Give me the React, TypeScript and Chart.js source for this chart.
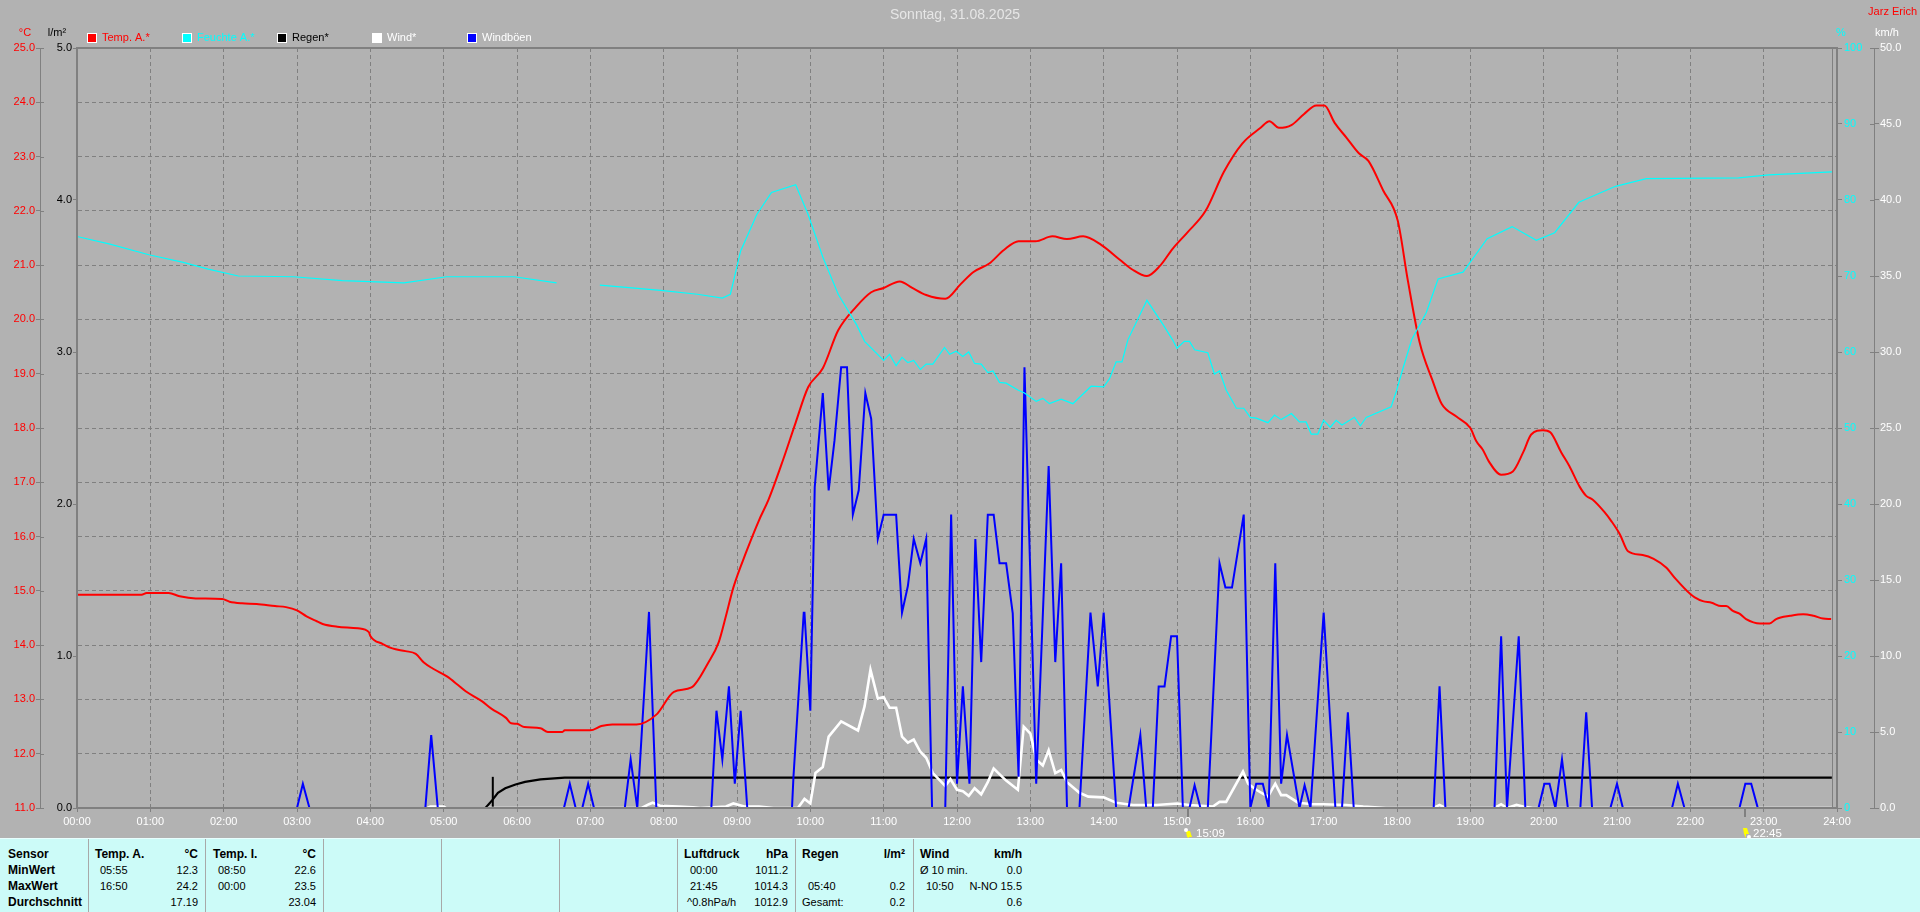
import React, { useEffect, useRef } from "react";
import { Chart, registerables } from "chart.js";

Chart.register(...registerables);

const titleText = "Sonntag, 31.08.2025";
const authorText = "Jarz Erich";

const tempHours = [0,0.88,0.95,1.25,1.4,1.62,1.98,2.08,2.25,2.45,2.7,2.85,3.0,3.13,3.27,3.35,3.55,3.83,3.98,4.0,4.17,4.3,4.48,4.62,4.73,4.85,5.05,5.2,5.3,5.52,5.65,5.85,5.92,6.0,6.1,6.32,6.42,6.62,6.65,7.0,7.15,7.3,7.63,7.9,8.14,8.38,8.61,8.75,8.85,8.95,9.13,9.3,9.43,9.63,9.8,9.97,10.17,10.38,10.63,10.83,11,11.22,11.39,11.58,11.84,12.05,12.22,12.44,12.64,12.84,13.07,13.3,13.5,13.72,13.97,14.22,14.39,14.59,14.77,14.94,15.14,15.39,15.64,15.89,16.14,16.26,16.39,16.56,16.73,16.9,17.01,17.15,17.31,17.48,17.61,17.81,18.01,18.15,18.31,18.48,18.61,18.81,19,19.08,19.17,19.25,19.42,19.58,19.72,19.83,19.99,20.09,20.24,20.35,20.49,20.58,20.67,20.83,20.92,21.04,21.15,21.35,21.5,21.67,21.8,22,22.06,22.17,22.29,22.42,22.49,22.58,22.67,22.76,22.95,23.08,23.17,23.36,23.54,23.68,23.81,23.92];
const tempValues = [14.93,14.93,14.96,14.96,14.9,14.86,14.85,14.8,14.77,14.76,14.72,14.7,14.64,14.53,14.44,14.39,14.34,14.31,14.24,14.17,14.02,13.94,13.89,13.84,13.68,13.57,13.42,13.26,13.15,12.97,12.83,12.66,12.56,12.55,12.49,12.47,12.4,12.4,12.43,12.43,12.51,12.54,12.54,12.72,13.14,13.22,13.68,14.05,14.54,15.06,15.73,16.3,16.68,17.42,18.1,18.75,19.1,19.8,20.24,20.5,20.58,20.7,20.58,20.45,20.38,20.65,20.87,21.03,21.28,21.44,21.44,21.53,21.48,21.53,21.37,21.1,20.92,20.8,20.99,21.3,21.6,22.0,22.72,23.24,23.53,23.65,23.53,23.58,23.78,23.94,23.94,23.62,23.35,23.06,22.92,22.38,21.82,20.7,19.57,18.89,18.44,18.21,18.0,17.76,17.6,17.39,17.14,17.2,17.55,17.88,17.96,17.92,17.55,17.3,16.92,16.75,16.68,16.45,16.29,16.04,15.73,15.66,15.59,15.43,15.22,14.94,14.88,14.81,14.78,14.72,14.72,14.63,14.58,14.48,14.4,14.4,14.48,14.54,14.57,14.54,14.49,14.48];

const humidityHours = [0,0.45,0.98,1.45,1.79,2.2,2.95,3.62,4.46,5.04,5.96,6.54,6.8,7.13,7.96,8.46,8.8,8.91,9.05,9.27,9.47,9.8,9.97,10.17,10.38,10.63,10.74,11,11.08,11.17,11.25,11.33,11.41,11.5,11.58,11.67,11.83,11.9,11.99,12.08,12.16,12.24,12.33,12.42,12.49,12.58,12.67,12.83,12.92,13.08,13.17,13.26,13.42,13.58,13.83,14,14.08,14.17,14.25,14.33,14.59,14.81,14.94,15,15.1,15.17,15.24,15.42,15.51,15.58,15.67,15.81,15.91,16,16.08,16.24,16.33,16.42,16.56,16.67,16.76,16.83,16.92,17,17.09,17.17,17.25,17.42,17.5,17.58,17.92,17.99,18.08,18.2,18.4,18.56,18.9,19.23,19.57,19.9,20.15,20.48,20.98,21.4,22.66,23.07,23.93];
const humidityValues = [75.2,74.2,72.8,71.8,70.9,70.0,69.9,69.4,69.1,69.9,69.9,69.1,null,68.8,68.1,67.6,67.1,67.6,73.3,78.1,81,82,78.1,72.5,67.6,63.6,61.4,58.9,59.7,58.2,59.3,58.6,58.9,57.7,58.4,58.4,60.6,59.7,60.1,59.4,60,58.5,58.4,57.3,57.5,56,55.9,55,54.6,53.5,53.9,53.2,53.8,53.2,55.5,55.4,56.5,58.7,58.7,61.6,66.8,63.6,61.6,60.5,61.4,61.4,60.3,59.9,57.1,57.5,55,52.6,52.6,51.4,51.3,50.7,51.7,51.1,51.9,50.8,50.8,49.2,49.2,51,50.1,51,50.4,51.4,50.3,51.4,52.8,54.8,57.8,61.6,65.2,69.6,70.5,74.9,76.5,74.7,75.7,79.7,81.8,82.8,82.9,83.3,83.7];

const rainHours = [0,5.57,5.66,5.74,5.84,5.98,6.11,6.32,6.65,23.93];
const rainValues = [0,0,0.05,0.1,0.13,0.155,0.172,0.188,0.2,0.2];
const rainSpikeHours = [5.67,5.67];
const rainSpikeValues = [0,0.205];

const baselineHours = [5.67,23.93];
const baselineValues = [0,0];

const windHours = [5.6,7.7,7.8,7.85,7.95,8.2,8.4,8.5,8.85,8.95,9.1,9.3,9.5,9.83,9.92,10,10.07,10.17,10.25,10.42,10.65,10.74,10.82,10.92,11,11.08,11.17,11.25,11.33,11.41,11.5,11.58,11.67,11.84,11.91,12,12.08,12.16,12.24,12.33,12.42,12.5,12.67,12.83,12.91,13,13.08,13.17,13.25,13.34,13.42,13.5,13.67,13.79,14,14.17,14.4,14.72,15,15.17,15.49,15.58,15.67,15.9,15.97,16.08,16.24,16.34,16.42,16.49,16.65,16.85,17,17.31,17.54,17.85,18.5,18.58,18.66,19.33,19.42,19.5,19.63,19.72,19.85,23.93];
const windValues = [0,0,0.25,0.35,0.15,0.1,0.05,0,0.1,0.3,0.1,0.1,0,0,0.6,0.3,2.3,2.7,4.7,5.7,5.1,6.7,9.1,7.2,7.3,6.6,6.6,4.7,4.3,4.5,3.7,3.3,2.3,1.45,1.9,1.2,1.1,0.8,1.3,0.9,1.7,2.6,1.8,1.2,5.35,4.9,3.2,2.8,3.8,2.3,2.5,1.7,1,0.75,0.7,0.35,0.2,0.2,0.3,0.2,0.1,0.4,0.4,2.4,1.6,1.2,0.75,1.6,0.85,0.85,0.35,0.25,0.25,0.2,0.1,0,0,0.2,0,0,0.25,0,0.2,0.1,0,0];
const windEarlyHours = [4.78,4.82,5.0,5.03];
const windEarlyValues = [0,0.1,0.1,0];

const gustHours = [3.0,3.08,3.17,3.18,4.75,4.83,4.92,4.93,6.64,6.72,6.8,6.81,6.89,6.97,7.05,7.06,7.47,7.55,7.64,7.8,7.9,7.91,8.65,8.72,8.8,8.89,8.97,9.05,9.14,9.15,9.75,9.77,9.91,9.92,10,10.06,10.17,10.25,10.33,10.42,10.5,10.58,10.66,10.75,10.83,10.92,11,11.17,11.25,11.33,11.41,11.5,11.58,11.66,11.84,11.92,12,12.08,12.17,12.25,12.33,12.42,12.5,12.58,12.67,12.76,12.84,12.92,13.08,13.25,13.34,13.42,13.5,13.67,13.82,13.92,14,14.17,14.34,14.5,14.58,14.59,14.67,14.75,14.83,14.92,15,15.08,15.09,15.17,15.24,15.32,15.33,15.42,15.58,15.66,15.75,15.91,16,16.08,16.17,16.25,16.34,16.42,16.5,16.67,16.74,16.82,17,17.16,17.17,17.25,17.33,17.41,17.42,18.5,18.58,18.66,18.67,19.33,19.42,19.5,19.66,19.75,19.76,19.93,20.01,20.08,20.16,20.25,20.33,20.34,20.5,20.58,20.66,20.67,20.91,21,21.08,21.09,21.75,21.83,21.92,21.93,22.67,22.75,22.83,22.92];
const gustValues = [0,1.6,0,null,0,4.8,0,null,0,1.6,0,null,0,1.6,0,null,0,3.2,0,12.9,0,null,0,6.4,3.2,8,1.6,6.4,0,null,0,2.06,12.85,12.85,6.4,21.1,27.3,20.9,24.2,29,29,19.3,20.9,27.3,25.6,17.7,19.3,19.3,12.85,14.6,17.7,16.1,17.7,0,0,19.3,1.6,8,1.6,17.7,9.6,19.3,19.3,16.1,16.1,12.8,2.06,29,1.6,22.5,9.6,16.1,0,0,12.85,8,12.85,0,0,4.8,0,null,0,8,8,11.3,11.3,0,null,0,1.5,0,null,0,16.1,14.5,14.5,19.3,0,1.6,1.6,0,16.1,1.6,4.8,0,1.5,0,12.85,0,null,0,6.3,0,null,0,8,0,null,0,11.3,0,11.3,0,null,0,1.6,1.6,0,3.2,0,null,0,6.3,0,null,0,1.6,0,null,0,1.6,0,null,0,1.6,1.6,0];

const eventHours = [15.15,22.75];
const eventLabels = ["15:09","22:45"];

const sensorCol = ["Sensor","MinWert","MaxWert","Durchschnitt"];
const tempOutTimes = ["Temp. A.","05:55","16:50",""];
const tempOutValues = ["°C","12.3","24.2","17.19"];
const tempInTimes = ["Temp. I.","08:50","00:00",""];
const tempInValues = ["°C","22.6","23.5","23.04"];
const pressureTimes = ["Luftdruck","00:00","21:45","^0.8hPa/h"];
const pressureValues = ["hPa","1011.2","1014.3","1012.9"];
const rainTimes = ["Regen","","05:40","Gesamt:"];
const rainStatValues = ["l/m²","","0.2","0.2"];
const windTimes = ["Wind","Ø 10 min.","10:50",""];
const windStatValues = ["km/h","0.0","N-NO 15.5","0.6"];

const FONT = '"Liberation Sans", Arial, sans-serif';
const GRAY = "#808080";
const BG = "#b2b2b2";

const zip = (xs: number[], ys: (number | null)[]) => xs.map((x, i) => ({ x, y: ys[i] }));

const legendItems = [
  { label: "Temp. A.*", box: "#ff0000", text: "#ff0000" },
  { label: "Feuchte A.*", box: "#00ffff", text: "#00ffff" },
  { label: "Regen*", box: "#000000", text: "#000000" },
  { label: "Wind*", box: "#ffffff", text: "#ffffff" },
  { label: "Windböen", box: "#0000ff", text: "#ffffff" },
];

const decor = {
  id: "decor",
  beforeDatasetsDraw(chart: any) {
    const { ctx, chartArea: a, scales } = chart;
    ctx.save();
    ctx.strokeStyle = GRAY;
    ctx.lineWidth = 1;
    const xr = Math.round(scales.x.getPixelForValue(23.93)) + 0.5;
    ctx.beginPath();
    ctx.moveTo(xr, a.top);
    ctx.lineTo(xr, a.bottom);
    ctx.stroke();
    ctx.restore();
  },
  afterDraw(chart: any) {
    const { ctx, chartArea: a, scales } = chart;
    ctx.save();
    // plot frame
    ctx.strokeStyle = GRAY;
    ctx.lineWidth = 2;
    ctx.strokeRect(a.left, a.top, a.right - a.left, a.bottom - a.top);
    // ticks crossing the outer axes
    ctx.lineWidth = 1;
    scales.yTemp.ticks.forEach((_: any, i: number) => {
      const y = Math.round(scales.yTemp.getPixelForTick(i)) + 0.5;
      ctx.beginPath();
      ctx.moveTo(scales.yTemp.right, y);
      ctx.lineTo(scales.yTemp.right + 4, y);
      ctx.stroke();
    });
    scales.yWind.ticks.forEach((_: any, i: number) => {
      const y = Math.round(scales.yWind.getPixelForTick(i)) + 0.5;
      ctx.beginPath();
      ctx.moveTo(scales.yWind.left - 4, y);
      ctx.lineTo(scales.yWind.left, y);
      ctx.stroke();
    });
    // legend
    ctx.font = "11px " + FONT;
    ctx.textBaseline = "middle";
    ctx.textAlign = "left";
    legendItems.forEach((it, i) => {
      const x = 87 + i * 95;
      ctx.fillStyle = "#ffffff";
      ctx.fillRect(x, 33, 10, 10);
      ctx.fillStyle = it.box;
      ctx.fillRect(x + 1, 34, 8, 8);
      ctx.fillStyle = it.text;
      ctx.fillText(it.label, x + 15, 38);
    });
    // titles and units
    ctx.fillStyle = "#e6e6e6";
    ctx.textAlign = "center";
    ctx.font = "14px " + FONT;
    ctx.fillText(titleText, 955, 15);
    ctx.font = "11px " + FONT;
    ctx.fillStyle = "#ff0000";
    ctx.textAlign = "right";
    ctx.fillText(authorText, 1917, 12);
    ctx.textAlign = "center";
    ctx.fillText("°C", 25, 33);
    ctx.fillStyle = "#000000";
    ctx.fillText("l/m²", 57, 33);
    ctx.fillStyle = "#00ffff";
    ctx.fillText("%", 1841, 33);
    ctx.fillStyle = "#ffffff";
    ctx.fillText("km/h", 1887, 33);
    // lightning / event markers below the axis
    ctx.textAlign = "left";
    eventHours.forEach((h, i) => {
      const x = Math.round(scales.x.getPixelForValue(h));
      ctx.fillStyle = GRAY;
      ctx.fillRect(x - 1, a.bottom, 2, 9);
      ctx.fillStyle = "#ffff00";
      ctx.beginPath();
      ctx.moveTo(x - 2, 828 + (i ? 0 : 3));
      ctx.lineTo(x + 2, 828 + (i ? 0 : 3));
      ctx.lineTo(x + 4, 834 + (i ? 0 : 3));
      ctx.lineTo(x + 1, 834 + (i ? 0 : 3));
      ctx.lineTo(x + 1, 838);
      ctx.lineTo(x - 1, 834 + (i ? 0 : 3));
      ctx.closePath();
      ctx.fill();
      ctx.fillStyle = "#ffffff";
      ctx.beginPath();
      ctx.arc(i ? x + 4 : x - 2, i ? 837 : 830, 2, 0, Math.PI * 2);
      ctx.fill();
      ctx.font = "11.5px " + FONT;
      ctx.fillText(eventLabels[i], x + 8, 834);
    });
    ctx.restore();
  },
};

const panelColumns = [
  { rows: sensorCol, x: 8, align: "left", boldAll: true, indent: 0 },
  { rows: tempOutTimes, x: 95, align: "left", boldAll: false, indent: 5 },
  { rows: tempOutValues, x: 198, align: "right", boldAll: false, indent: 0 },
  { rows: tempInTimes, x: 213, align: "left", boldAll: false, indent: 5 },
  { rows: tempInValues, x: 316, align: "right", boldAll: false, indent: 0 },
  { rows: pressureTimes, x: 684, align: "left", boldAll: false, indent: 6 },
  { rows: pressureValues, x: 788, align: "right", boldAll: false, indent: 0 },
  { rows: rainTimes, x: 802, align: "left", boldAll: false, indent: 6 },
  { rows: rainStatValues, x: 905, align: "right", boldAll: false, indent: 0 },
  { rows: windTimes, x: 920, align: "left", boldAll: false, indent: 6 },
  { rows: windStatValues, x: 1022, align: "right", boldAll: false, indent: 0 },
];
const separators = [88, 205, 323, 441, 559, 677, 795, 913];
const rowCenters = [854, 870, 886, 902];

export default function App() {
  const ref = useRef<HTMLCanvasElement | null>(null);

  useEffect(() => {
    document.body.style.margin = "0";
    document.body.style.overflow = "hidden";
    const width = (w: number) => (s: any) => { s.width = w; };
    const tick = { color: "#ffffff", font: { family: FONT, size: 11 } };
    const chart = new Chart(ref.current as HTMLCanvasElement, {
      type: "line",
      data: {
        datasets: [
          { label: "Feuchte A.*", data: zip(humidityHours, humidityValues), yAxisID: "yHum", borderColor: "#00ffff", borderWidth: 1.2 },
          { label: "Temp. A.*", data: zip(tempHours, tempValues), yAxisID: "yTemp", borderColor: "#ff0000", borderWidth: 2, cubicInterpolationMode: "monotone" },
          { label: "Windböen", data: zip(gustHours, gustValues), yAxisID: "yWind", borderColor: "#0000ff", borderWidth: 2 },
          { label: "Wind*", data: zip(windHours, windValues), yAxisID: "yWind", borderColor: "#ffffff", borderWidth: 2.6 },
          { label: "Wind* früh", data: zip(windEarlyHours, windEarlyValues), yAxisID: "yWind", borderColor: "#ffffff", borderWidth: 2.6 },
          { label: "Basis", data: zip(baselineHours, baselineValues), yAxisID: "yRain", borderColor: "#000000", borderWidth: 1, borderDash: [1, 3] },
          { label: "Regen*", data: zip(rainHours, rainValues), yAxisID: "yRain", borderColor: "#000000", borderWidth: 2.2 },
          { label: "Regen* Balken", data: zip(rainSpikeHours, rainSpikeValues), yAxisID: "yRain", borderColor: "#000000", borderWidth: 2 },
        ],
      },
      options: {
        animation: false,
        responsive: false,
        parsing: false as any,
        normalized: true,
        spanGaps: false,
        elements: { point: { radius: 0 }, line: { tension: 0 } },
        layout: { padding: { top: 48, bottom: 74, left: 0, right: 0 } },
        plugins: { legend: { display: false }, tooltip: { enabled: false } },
        scales: {
          x: {
            type: "linear",
            position: "bottom",
            min: 0,
            max: 24,
            afterFit: (s: any) => { s.height = 30; },
            ticks: {
              ...tick,
              stepSize: 1,
              autoSkip: false,
              maxRotation: 0,
              padding: 3,
              callback: (v: any) => String(v).padStart(2, "0") + ":00",
            },
            grid: { color: GRAY, tickColor: GRAY, tickLength: 4 },
            border: { color: GRAY, dash: [4, 3] },
          },
          yTemp: {
            position: "left",
            weight: 2,
            min: 11,
            max: 25,
            afterFit: width(40),
            ticks: { ...tick, color: "#ff0000", stepSize: 1, padding: 1, callback: (v: any) => Number(v).toFixed(1) },
            grid: { color: GRAY, tickColor: GRAY, tickLength: 4 },
            border: { color: GRAY, dash: [4, 3] },
          },
          yRain: {
            position: "left",
            weight: 1,
            min: 0,
            max: 5,
            afterFit: width(37),
            ticks: { ...tick, color: "#000000", stepSize: 1, padding: 1, callback: (v: any) => Number(v).toFixed(1) },
            grid: { drawOnChartArea: false, tickColor: GRAY, tickLength: 4 },
            border: { color: GRAY },
          },
          yHum: {
            position: "right",
            weight: 1,
            min: 0,
            max: 100,
            afterFit: width(37),
            ticks: { ...tick, color: "#00ffff", stepSize: 10, padding: 2 },
            grid: { drawOnChartArea: false, tickColor: GRAY, tickLength: 5 },
            border: { color: GRAY },
          },
          yWind: {
            position: "right",
            weight: 2,
            min: 0,
            max: 50,
            afterFit: width(46),
            ticks: { ...tick, stepSize: 5, padding: 1, callback: (v: any) => Number(v).toFixed(1) },
            grid: { drawOnChartArea: false, tickColor: GRAY, tickLength: 5 },
            border: { color: GRAY },
          },
        },
      } as any,
      plugins: [decor],
    });
    return () => chart.destroy();
  }, []);

  return (
    <div style={{ position: "relative", width: 1920, height: 912, background: BG, overflow: "hidden", fontFamily: FONT }}>
      <canvas ref={ref} width={1920} height={912} style={{ position: "absolute", left: 0, top: 0, width: 1920, height: 912 }} />
      <div style={{ position: "absolute", left: 0, top: 838, width: 1920, height: 74, background: "#ccfbf8", borderTop: "1px solid #e8ffff", boxSizing: "border-box" }} />
      {separators.map((x) => (
        <div key={x} style={{ position: "absolute", left: x, top: 839, width: 1, height: 73, background: "#a8a8a8" }} />
      ))}
      {panelColumns.map((col, c) =>
        col.rows.map((text, r) => (
          <div
            key={c + "-" + r}
            style={{
              position: "absolute",
              top: rowCenters[r] - 8,
              height: 16,
              lineHeight: "16px",
              whiteSpace: "nowrap",
              color: "#000",
              ...(col.align === "left"
                ? { left: col.x + (r === 0 || col.boldAll ? 0 : (text === "Gesamt:" || text === "Ø 10 min." ? 0 : text.startsWith("^") ? 3 : col.indent)) }
                : { right: 1920 - col.x }),
              fontSize: r === 0 || col.boldAll ? 12 : 11,
              fontWeight: r === 0 || col.boldAll ? 700 : 400,
            }}
          >
            {text}
          </div>
        ))
      )}
    </div>
  );
}
